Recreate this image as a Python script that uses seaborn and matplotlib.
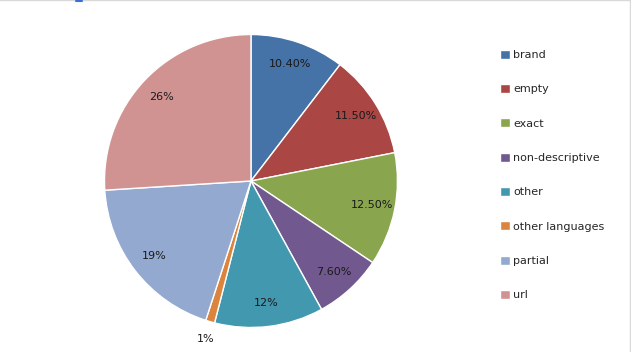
import matplotlib
matplotlib.use("Agg")
import numpy as np
import matplotlib.pyplot as plt
import seaborn as sns

# ---------------------------------------------------------------
# data
# ---------------------------------------------------------------
categoryL = ['brand', 'empty', 'exact', 'non-descriptive', 'other',
             'other languages', 'partial', 'url']
shareL = [10.4, 11.5, 12.5, 7.6, 12, 1, 19, 26]
labelL = ['10.40%', '11.50%', '12.50%', '7.60%', '12%', '1%', '19%', '26%']
colorL = ['#4572A7', '#AA4643', '#89A54E', '#71588F',
          '#4198AF', '#DB843D', '#93A9CF', '#D19392']


def main():
    sns.set_theme(style="white")
    plt.rcParams['font.family'] = ['DejaVu Sans']

    fig = plt.figure(figsize=(6.31, 3.52), dpi=100)
    ax = fig.add_axes([0.1656, 0.0696, 0.4643, 0.8324])

    wedges, texts = ax.pie(shareL, colors=sns.color_palette(colorL),
                           startangle=90, counterclock=False,
                           wedgeprops=dict(edgecolor='white', linewidth=1.0))
    ax.set_xlim(-1, 1)
    ax.set_ylim(-1, 1)
    ax.set_aspect('equal')

    # percentage labels, inside end; the tiny slice goes outside
    for w, lab, v in zip(wedges, labelL, shareL):
        ang = np.deg2rad((w.theta1 + w.theta2) / 2.0)
        r = 1.12 if v < 2 else 0.84
        ax.text(r * np.cos(ang), r * np.sin(ang), lab,
                ha='center', va='center', fontsize=8, color='#1a1a1a')

    ax.legend(wedges, categoryL, loc='upper left',
              bbox_to_anchor=(494 / 631, 1 - 44 / 352),
              bbox_transform=fig.transFigure, frameon=False,
              fontsize=8, handlelength=0.9, handleheight=0.9,
              handletextpad=0.3, labelspacing=2.15, borderpad=0)

    # thin frame remnants at top and right
    fig.add_artist(plt.Line2D([0, 1], [0.999, 0.999], color='#d9d9d9', lw=1,
                              transform=fig.transFigure))
    fig.add_artist(plt.Line2D([0.9985, 0.9985], [0, 1], color='#d9d9d9', lw=1,
                              transform=fig.transFigure))
    fig.add_artist(plt.Line2D([76 / 631, 82 / 631], [0.997, 0.997],
                              color='#3a6fd8', lw=1.5, transform=fig.transFigure))

    fig.savefig('out.png', dpi=100, facecolor='white')


if __name__ == "__main__":
    main()
